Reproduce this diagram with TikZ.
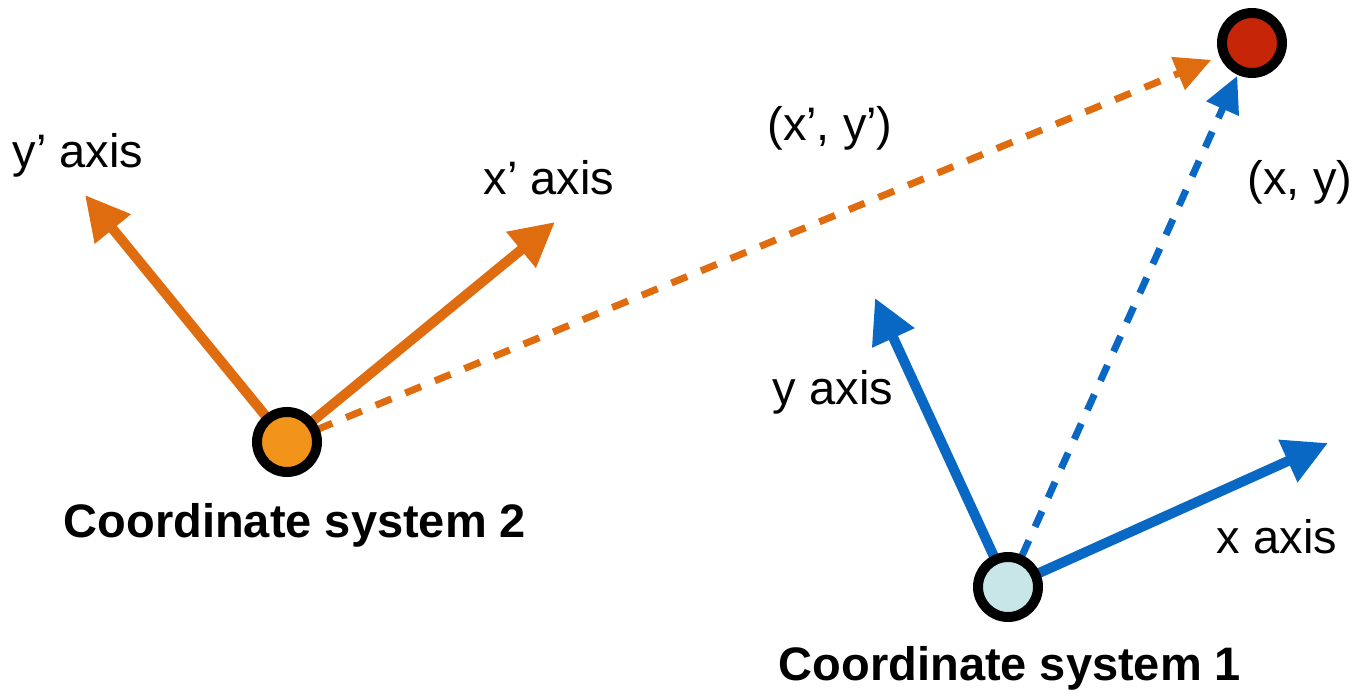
\documentclass[tikz,border=0pt]{standalone}
\usepackage{fontspec}
\setmainfont{Liberation Sans}
\usetikzlibrary{arrows.meta}
\definecolor{axisorange}{RGB}{224,108,16}
\definecolor{dotorange}{RGB}{242,147,26}
\definecolor{axisblue}{RGB}{8,104,196}
\definecolor{dotblue}{RGB}{200,230,232}
\definecolor{dotred}{RGB}{199,37,8}
\tikzset{
  axisline/.style={line width=5pt, -{Triangle[length=22pt,width=22pt]}},
  posline/.style={line width=3.5pt, dash pattern=on 8.5pt off 7.5pt, -{Triangle[length=18pt,width=17pt]}},
  dot/.style={circle, draw=black, line width=5pt, minimum size=30pt, inner sep=0pt},
  lbl/.style={font=\fontsize{23.5pt}{28pt}\selectfont},
  title/.style={font=\fontsize{23.5pt}{28pt}\selectfont\bfseries}
}

\begin{document}
\begin{tikzpicture}[x=0.5pt, y=-0.5pt]
\useasboundingbox (0,0) rectangle (1356,696);
\coordinate (sys2) at (287,442);
\coordinate (sys1) at (1008,587);
\coordinate (pt) at (1252,43);
\coordinate (ytip2) at (85,195);
\coordinate (xtip2) at (555,222);
\coordinate (ytip1) at (875,298);
\coordinate (xtip1) at (1328,443);
% axes
\draw[axisline, axisorange] (sys2) -- (ytip2);
\draw[axisline, axisorange] (sys2) -- (xtip2);
\draw[axisline, axisblue] (sys1) -- (ytip1);
\draw[axisline, axisblue] (sys1) -- (xtip1);
% position of the point
\draw[posline, axisorange, shorten <=16pt, shorten >=22pt] (sys2) -- (pt);
\draw[posline, axisblue, shorten <=17pt, shorten >=18pt] (sys1) -- (pt);
% dots
\node[dot, fill=dotorange] (c2) at (sys2) {};
\node[dot, fill=dotblue] (c1) at (sys1) {};
\node[dot, fill=dotred] (p) at (pt) {};
% labels
\node[lbl] (ylab2) at (78,155) {y’ axis};
\node[lbl] (xlab2) at (549,178) {x’ axis};
\node[lbl] (plab2) at (830,128) {(x’, y’)};
\node[lbl] (plab1) at (1300,182) {(x, y)};
\node[lbl] (ylab1) at (833,392) {y axis};
\node[lbl] (xlab1) at (1277,537) {x axis};
\node[title] (name2) at (295,525) {Coordinate system 2};
\node[title] (name1) at (1010,668) {Coordinate system 1};
\end{tikzpicture}
\end{document}
